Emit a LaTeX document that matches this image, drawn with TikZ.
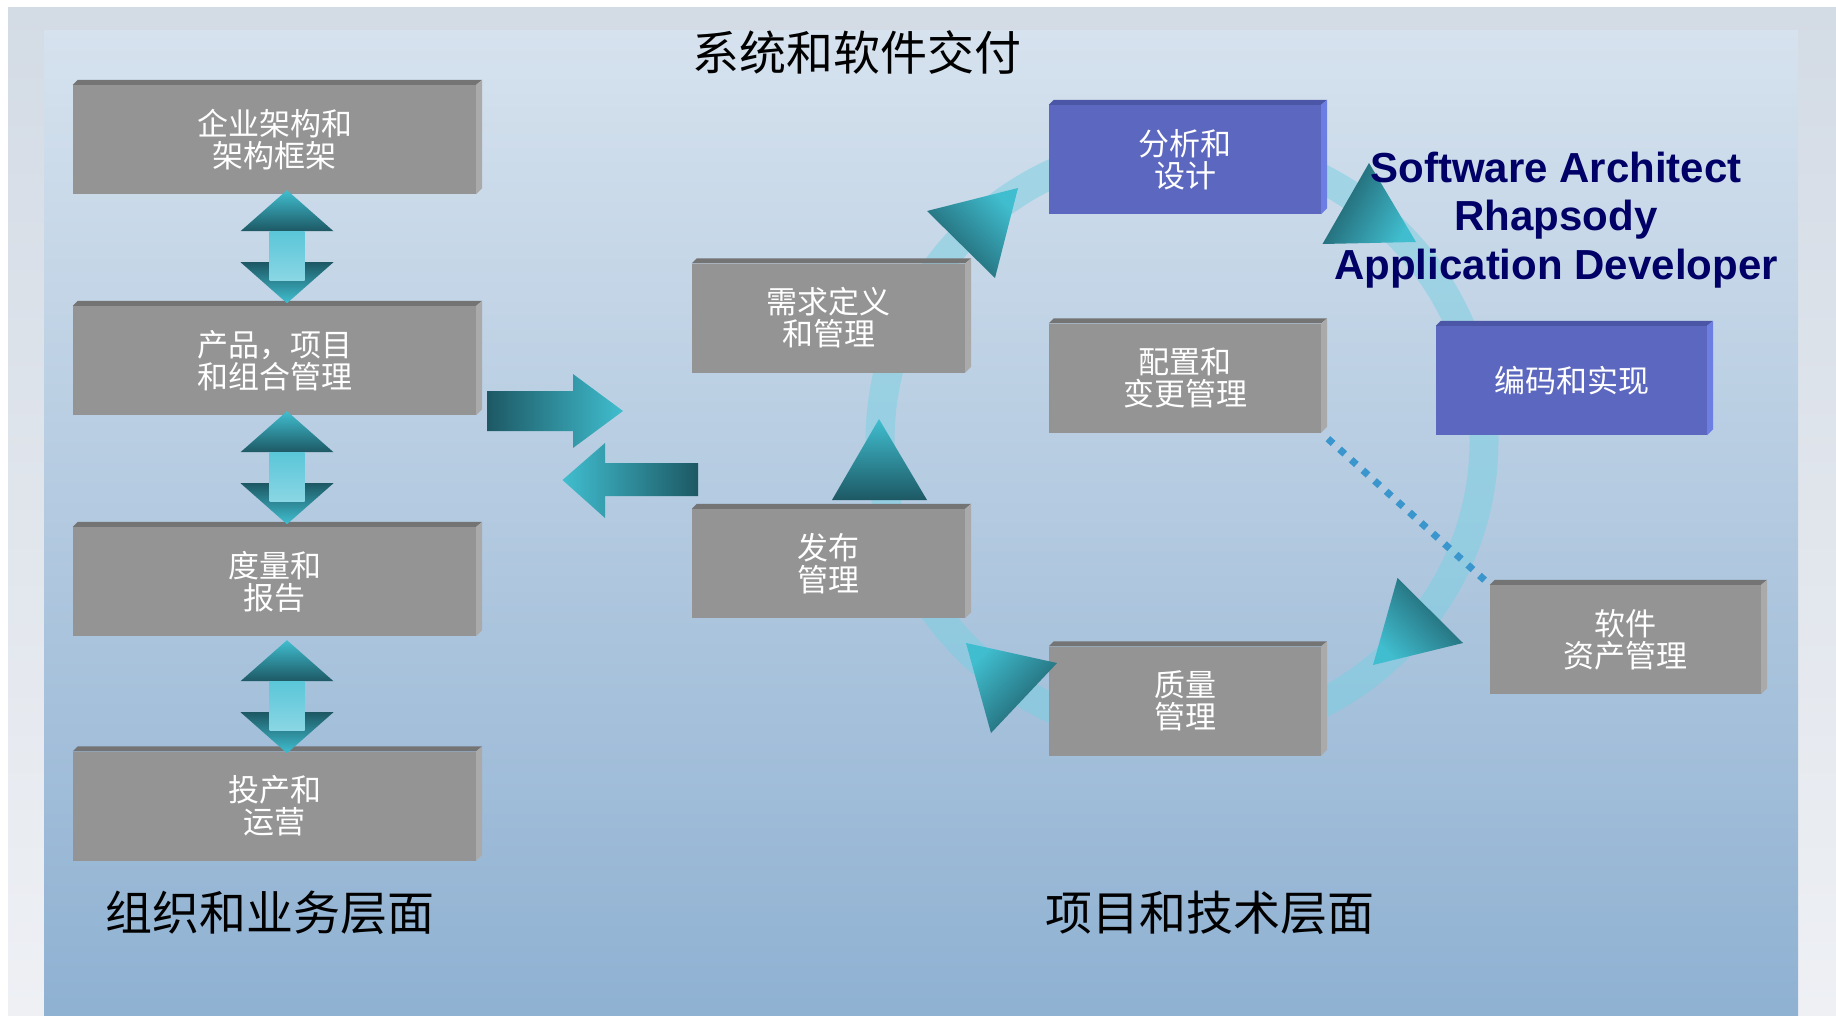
\documentclass[tikz,border=0pt]{standalone}
\usepackage{fontspec}
\setmainfont{Liberation Sans}
\newfontfamily\cjk{Noto Sans CJK SC}
\usepackage{tikz}
\usetikzlibrary{calc}
\definecolor{boxgray}{RGB}{148,148,148}
\definecolor{bevtop}{RGB}{116,116,116}
\definecolor{bevside}{RGB}{170,170,170}
\definecolor{boxblue}{RGB}{92,103,191}
\definecolor{bluetop}{RGB}{76,86,166}
\definecolor{blueside}{RGB}{109,126,227}
\definecolor{tealdark}{RGB}{29,88,100}
\definecolor{teallight}{RGB}{64,190,207}
\definecolor{shaftlight}{RGB}{90,198,216}
\definecolor{shaftpale}{RGB}{138,214,228}
\definecolor{ringcyan}{RGB}{120,208,226}
\definecolor{dotblue}{RGB}{58,150,205}
\definecolor{navy}{RGB}{0,0,102}
\definecolor{paneltop}{RGB}{214,226,238}
\definecolor{panelmid}{RGB}{182,204,225}
\definecolor{panelbot}{RGB}{143,177,210}
\definecolor{frametop}{RGB}{211,219,229}
\definecolor{framebot}{RGB}{238,240,244}

\begin{document}
\begin{tikzpicture}[x=1pt, y=-1pt,
  graybox/.style={fill=boxgray, inner sep=0pt, text=white, align=center,
    minimum height=109pt, font=\cjk\fontsize{31}{32}\selectfont},
  bluebox/.style={graybox, fill=boxblue},
  layer/.style={inner sep=0pt, text=black, font=\cjk\fontsize{47}{50}\selectfont},
  ring/.style={draw=ringcyan, line width=29pt, opacity=0.5},
  tipshade/.style={top color=teallight, bottom color=tealdark, shading angle=#1}]
\useasboundingbox (0,0) rectangle (1836,1015);
% background
\fill[white] (0,0) rectangle (1836,1015);
\shade[top color=frametop, bottom color=framebot] (8,7) rectangle (1836,1015);
\shade[top color=paneltop, middle color=panelmid, bottom color=panelbot] (44,30) rectangle (1798,1015);
% cycle
\draw[ring] (1182,441) ellipse [x radius=302pt, y radius=296pt];

% organisation level
\node[graybox, minimum width=403pt] (ea) at (274.5,139.5) {企业架构和\\架构框架};
\node[graybox, minimum width=403pt] (ppm) at (274.5,360.5) {产品，项目\\和组合管理};
\node[graybox, minimum width=403pt] (mr) at (274.5,581.5) {度量和\\报告};
\node[graybox, minimum width=403pt] (ops) at (274.5,806) {投产和\\运营};
% project level
\node[graybox, minimum width=273pt] (req) at (828.5,318) {需求定义\\和管理};
\node[graybox, minimum width=273pt] (rel) at (828.5,563.5) {发布\\管理};
\node[bluebox, minimum width=272pt] (ad) at (1185,159.5) {分析和\\设计};
\node[graybox, minimum width=272pt] (cm) at (1185,378) {配置和\\变更管理};
\node[graybox, minimum width=272pt] (qm) at (1185,701) {质量\\管理};
\node[bluebox, minimum width=271pt] (ci) at (1571.5,380.5) {编码和实现};
\node[graybox, minimum width=271pt] (sam) at (1625.5,639.5) {软件\\资产管理};

% bevels
\foreach \n in {ea,ppm,mr,ops,req,rel,cm,qm,sam}{
  \fill[bevtop] (\n.north west) -- ([shift={(5,-5)}]\n.north west)
    -- ([shift={(6,-5)}]\n.north east) -- (\n.north east) -- cycle;
  \fill[bevside] (\n.north east) -- ([shift={(6,-5)}]\n.north east)
    -- ([shift={(6,-6)}]\n.south east) -- (\n.south east) -- cycle;
}
\foreach \n in {ad,ci}{
  \fill[bluetop] (\n.north west) -- ([shift={(5,-5)}]\n.north west)
    -- ([shift={(6,-5)}]\n.north east) -- (\n.north east) -- cycle;
  \fill[blueside] (\n.north east) -- ([shift={(6,-5)}]\n.north east)
    -- ([shift={(6,-6)}]\n.south east) -- (\n.south east) -- cycle;
}

% double arrows
\foreach \a/\d in {ea/-4,ppm/-4,mr/4}{
  \coordinate (tipup) at ([shift={(12.5,\d)}]\a.south);
  \shade[top color=tealdark, bottom color=teallight] ([shift={(-46.5,72)}]tipup)
    -- ++(93,0) -- ++(-46.5,41) -- cycle;
  \shade[top color=teallight, bottom color=tealdark] (tipup) -- ++(46.5,41) -- ++(-93,0) -- cycle;
  \shade[top color=shaftlight, bottom color=shaftpale] ([shift={(-17.5,41)}]tipup) rectangle ++(35,49);
}

% between the levels
\coordinate (outtip) at (623,411);
\coordinate (intip) at (562.5,480);
\shade[left color=tealdark, right color=teallight] (487,391) -- (573,391) -- (573,374)
  -- (outtip) -- (573,448) -- (573,431) -- (487,431) -- cycle;
\shade[left color=teallight, right color=tealdark] (698,463) -- (605,463) -- (605,443)
  -- (intip) -- (605,518) -- (605,496) -- (698,496) -- cycle;

% arrow heads on the cycle
\shade[tipshade=-45] (1018,188) -- (927,211) -- (995,278) -- cycle;
\shade[tipshade=-119] (1369,163) -- (1322.5,244) -- (1416,242) -- cycle;
\shade[tipshade=0] (879,419) -- (832,500) -- (927,500) -- cycle;
\shade[tipshade=46] (966,643) -- (1057,663) -- (991,733) -- cycle;
\shade[tipshade=134] (1397.5,578) -- (1463,643) -- (1373,665) -- cycle;

% dotted link
\draw[dotblue, line width=7pt, dash pattern=on 7pt off 8.7pt, shorten <=9pt, shorten >=3pt]
  (cm.south east) -- (sam.north west);

% labels
\node[layer] (title) at (857,52) {系统和软件交付};
\node[layer] (orglevel) at (270,913) {组织和业务层面};
\node[layer] (projlevel) at (1210,913) {项目和技术层面};
\node[inner sep=0pt, text=navy, align=center, font=\bfseries\fontsize{42}{48.5}\selectfont]
  (tools) at (1556,220) {Software Architect\\Rhapsody\\Application Developer};
\end{tikzpicture}
\end{document}
